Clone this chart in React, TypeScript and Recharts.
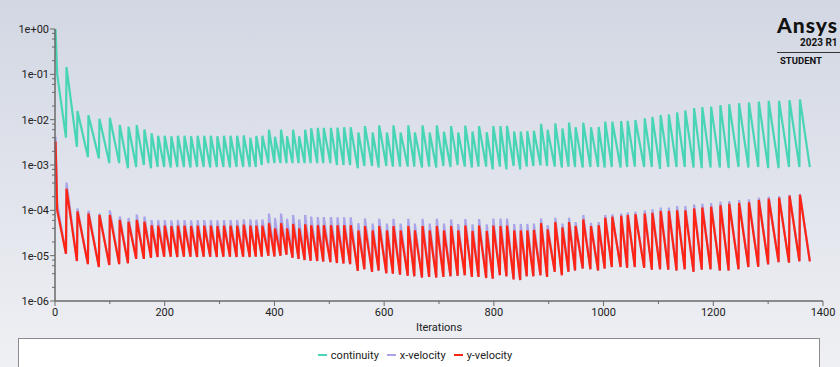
import React from 'react';
import { LineChart, Line, XAxis, YAxis, Label } from 'recharts';

// iteration at which every time step starts (the spike of each tooth)
const stepStart = [
  1, 21, 41, 61, 81, 100, 118, 134, 149, 163,
  176, 188, 200, 212, 224, 236, 248, 260, 272, 284,
  296, 308, 320, 332, 344, 356, 367, 378, 390, 401,
  412, 423, 434, 445, 456, 467, 479, 490, 503, 515,
  527, 539, 553, 565, 579, 591, 605, 617, 630, 644,
  656, 670, 683, 696, 709, 722, 735, 748, 761, 773,
  787, 799, 812, 824, 837, 849, 861, 873, 886, 898,
  912, 925, 937, 949, 963, 977, 991, 1003, 1016, 1032,
  1044, 1058, 1075, 1089, 1104, 1119, 1134, 1149, 1165, 1180,
  1196, 1213, 1229, 1247, 1265, 1283, 1301, 1320, 1339, 1358,
];
const lastIteration = 1376;

const continuityPeak = [
  1.0, 0.145, 0.0155, 0.0125, 0.0105, 0.011, 0.0076, 0.007, 0.0076, 0.0061,
  0.005, 0.0044, 0.0044, 0.0043, 0.0044, 0.0044, 0.0043, 0.0044, 0.0044, 0.0044,
  0.0043, 0.0044, 0.0044, 0.0044, 0.0045, 0.004, 0.0044, 0.0044, 0.006, 0.0042,
  0.006, 0.0043, 0.006, 0.0043, 0.006, 0.0065, 0.0066, 0.0066, 0.0066, 0.0067,
  0.0068, 0.0068, 0.0052, 0.0072, 0.0052, 0.0075, 0.0052, 0.0075, 0.0052, 0.0075,
  0.0052, 0.0075, 0.0052, 0.0075, 0.0054, 0.0072, 0.0052, 0.0074, 0.0055, 0.0072,
  0.0053, 0.0072, 0.0072, 0.0073, 0.0055, 0.0055, 0.0056, 0.0057, 0.0081, 0.006,
  0.0083, 0.0064, 0.0086, 0.0068, 0.0086, 0.0068, 0.0069, 0.009, 0.009, 0.0093,
  0.0094, 0.0098, 0.0107, 0.0115, 0.0127, 0.013, 0.0144, 0.016, 0.018, 0.019,
  0.0194, 0.021, 0.022, 0.023, 0.024, 0.025, 0.026, 0.026, 0.027, 0.028,
];
const continuityTrough = [
  0.004, 0.0025, 0.0015, 0.0014, 0.0011, 0.0011, 0.00085, 0.0009, 0.001, 0.00085,
  0.0009, 0.0009, 0.00088, 0.0009, 0.0009, 0.00088, 0.0009, 0.0009, 0.00088, 0.0009,
  0.0009, 0.00088, 0.0009, 0.0009, 0.0009, 0.0009, 0.001, 0.0011, 0.0011, 0.0011,
  0.0011, 0.0011, 0.0011, 0.0011, 0.0011, 0.0011, 0.0011, 0.0011, 0.001, 0.001,
  0.001, 0.00085, 0.00095, 0.00095, 0.00088, 0.00095, 0.00092, 0.00092, 0.00092, 0.00092,
  0.00088, 0.00092, 0.00088, 0.00095, 0.0009, 0.001, 0.00092, 0.00088, 0.00092, 0.00092,
  0.0008, 0.00092, 0.0008, 0.00095, 0.0008, 0.00092, 0.00095, 0.00098, 0.00095, 0.00092,
  0.00088, 0.00092, 0.0009, 0.00088, 0.0009, 0.0009, 0.00088, 0.0009, 0.00088, 0.0009,
  0.00092, 0.0009, 0.0009, 0.00082, 0.0009, 0.0009, 0.0009, 0.00088, 0.00085, 0.00088,
  0.00088, 0.00085, 0.0009, 0.00088, 0.0009, 0.00085, 0.00085, 0.0009, 0.0009, 0.0009,
];
const xVelocityPeak = [
  0.0042, 4.1e-4, 1.1e-4, 9.8e-5, 8.5e-5, 1.0e-4, 7.3e-5, 6.8e-5, 8.1e-5, 7.3e-5,
  6.1e-5, 6.1e-5, 6.1e-5, 6.0e-5, 6.1e-5, 6.1e-5, 6.0e-5, 6.1e-5, 6.1e-5, 6.1e-5,
  6.0e-5, 6.1e-5, 6.1e-5, 6.1e-5, 6.3e-5, 6.3e-5, 6.2e-5, 6.3e-5, 8.5e-5, 6.8e-5,
  8.5e-5, 6.5e-5, 7.9e-5, 6.3e-5, 7.9e-5, 7.3e-5, 7.1e-5, 7.1e-5, 7.1e-5, 7.0e-5,
  7.0e-5, 7.0e-5, 5.2e-5, 6.6e-5, 5.1e-5, 6.5e-5, 5.1e-5, 6.5e-5, 5.1e-5, 6.5e-5,
  5.1e-5, 6.5e-5, 5.1e-5, 6.5e-5, 5.1e-5, 6.3e-5, 5.0e-5, 6.4e-5, 4.9e-5, 6.4e-5,
  4.9e-5, 6.6e-5, 6.6e-5, 6.6e-5, 5.0e-5, 5.0e-5, 5.0e-5, 5.1e-5, 6.6e-5, 4.7e-5,
  6.9e-5, 5.1e-5, 6.9e-5, 5.5e-5, 7.9e-5, 5.3e-5, 5.5e-5, 7.9e-5, 8.1e-5, 8.5e-5,
  8.9e-5, 9.3e-5, 1.0e-4, 1.05e-4, 1.15e-4, 1.15e-4, 1.25e-4, 1.25e-4, 1.35e-4, 1.4e-4,
  1.45e-4, 1.55e-4, 1.6e-4, 1.7e-4, 1.75e-4, 1.9e-4, 2.0e-4, 2.05e-4, 2.2e-4, 2.3e-4,
];
const yVelocityPeak = [
  0.0033, 3.0e-4, 9.5e-5, 8.5e-5, 7.9e-5, 7.9e-5, 6.1e-5, 5.6e-5, 6.1e-5, 5.6e-5,
  4.7e-5, 4.6e-5, 4.6e-5, 4.5e-5, 4.6e-5, 4.6e-5, 4.5e-5, 4.6e-5, 4.6e-5, 4.6e-5,
  4.5e-5, 4.6e-5, 4.6e-5, 4.6e-5, 4.8e-5, 4.6e-5, 4.6e-5, 4.6e-5, 5.2e-5, 4.0e-5,
  5.2e-5, 4.0e-5, 5.0e-5, 4.0e-5, 4.9e-5, 4.7e-5, 4.7e-5, 4.7e-5, 4.7e-5, 4.7e-5,
  4.7e-5, 4.7e-5, 3.6e-5, 4.5e-5, 3.6e-5, 4.5e-5, 3.6e-5, 4.5e-5, 3.6e-5, 4.5e-5,
  3.6e-5, 4.5e-5, 3.6e-5, 4.5e-5, 3.6e-5, 4.5e-5, 3.6e-5, 4.6e-5, 3.5e-5, 4.6e-5,
  3.5e-5, 4.6e-5, 4.5e-5, 4.6e-5, 3.6e-5, 3.6e-5, 3.6e-5, 3.7e-5, 5.2e-5, 3.8e-5,
  5.5e-5, 4.2e-5, 5.5e-5, 4.5e-5, 6.3e-5, 4.5e-5, 4.7e-5, 6.9e-5, 7.2e-5, 7.6e-5,
  7.9e-5, 8.2e-5, 8.5e-5, 8.8e-5, 9.7e-5, 9.7e-5, 1.0e-4, 1.0e-4, 1.1e-4, 1.15e-4,
  1.2e-4, 1.3e-4, 1.4e-4, 1.45e-4, 1.5e-4, 1.7e-4, 1.8e-4, 1.9e-4, 2.1e-4, 2.2e-4,
];
const yVelocityTrough = [
  1.1e-5, 7.6e-6, 6.5e-6, 5.6e-6, 6.2e-6, 6.5e-6, 6.8e-6, 8.5e-6, 8.5e-6, 9.0e-6,
  9.3e-6, 9.5e-6, 9.5e-6, 9.3e-6, 9.5e-6, 9.5e-6, 9.3e-6, 9.5e-6, 9.5e-6, 9.3e-6,
  9.5e-6, 9.5e-6, 9.3e-6, 9.5e-6, 9.3e-6, 9.5e-6, 9.5e-6, 1.0e-5, 9.6e-6, 1.0e-5,
  1.05e-5, 9.0e-6, 8.5e-6, 8.0e-6, 7.7e-6, 7.6e-6, 7.4e-6, 7.2e-6, 6.9e-6, 6.7e-6,
  6.5e-6, 4.6e-6, 5.0e-6, 4.4e-6, 4.7e-6, 4.1e-6, 4.0e-6, 3.8e-6, 3.6e-6, 3.5e-6,
  3.3e-6, 3.4e-6, 3.3e-6, 3.4e-6, 3.5e-6, 3.6e-6, 3.7e-6, 3.4e-6, 3.4e-6, 3.2e-6,
  3.1e-6, 3.7e-6, 3.5e-6, 3.0e-6, 2.9e-6, 3.5e-6, 3.5e-6, 3.7e-6, 3.4e-6, 4.4e-6,
  3.7e-6, 4.4e-6, 4.7e-6, 5.2e-6, 5.0e-6, 4.7e-6, 5.2e-6, 5.6e-6, 5.6e-6, 5.4e-6,
  5.6e-6, 5.4e-6, 4.9e-6, 5.0e-6, 4.9e-6, 4.7e-6, 5.0e-6, 4.4e-6, 4.9e-6, 5.0e-6,
  4.7e-6, 4.7e-6, 5.0e-6, 5.6e-6, 5.7e-6, 6.4e-6, 7.2e-6, 7.0e-6, 7.5e-6, 7.5e-6,
];
// the x-velocity troughs sit right under the red line in the picture
const xVelocityTrough = yVelocityTrough;

// the very first step falls off fast before settling into the sawtooth
const startupIteration = [4];
const startupContinuity = [0.1];
const startupXVelocity = [1.4e-4];
const startupYVelocity = [1.0e-4];

const seriesKeys = ['continuity', 'xVelocity', 'yVelocity'];
const seriesNames = ['continuity', 'x-velocity', 'y-velocity'];
const seriesColors = ['#48d5b5', '#a9a5e8', '#ff2414'];

const xMajorTicks = [0, 200, 400, 600, 800, 1000, 1200, 1400];
const xMinorTicks = [100, 300, 500, 700, 900, 1100, 1300];
const yMajorTicks = [1e-6, 1e-5, 1e-4, 1e-3, 1e-2, 1e-1, 1];
const yMinorFactors = [2, 4, 6, 8];

const rows: any[] = [];
stepStart.forEach((it, i) => {
  const end = i + 1 < stepStart.length ? stepStart[i + 1] - 1 : lastIteration;
  rows.push({ it, continuity: continuityPeak[i], xVelocity: xVelocityPeak[i], yVelocity: yVelocityPeak[i] });
  rows.push({ it: end, continuity: continuityTrough[i], xVelocity: xVelocityTrough[i], yVelocity: yVelocityTrough[i] });
});
startupIteration.forEach((it, i) => {
  rows.push({ it, continuity: startupContinuity[i], xVelocity: startupXVelocity[i], yVelocity: startupYVelocity[i] });
});
const data = rows.sort((a, b) => a.it - b.it);

const yMinorTicks: number[] = [];
yMajorTicks.slice(0, -1).forEach((d) => yMinorFactors.forEach((f) => yMinorTicks.push(d * f)));
const yTicks = [...yMajorTicks, ...yMinorTicks].sort((a, b) => a - b);
const xTicks = [...xMajorTicks, ...xMinorTicks].sort((a, b) => a - b);

const axisColor = '#6a6a6a';
const textColor = '#222';

const expLabel = (v: number) => {
  const e = Math.round(Math.log10(v));
  return `1e${e < 0 ? '-' : '+'}${String(Math.abs(e)).padStart(2, '0')}`;
};

const isMajorY = (v: number) => yMajorTicks.some((t) => Math.abs(Math.log10(t) - Math.log10(v)) < 1e-6);

const YTick = (props: any) => {
  const { x, y, payload } = props;
  const major = isMajorY(payload.value);
  return (
    <g>
      <line x1={x} x2={x - (major ? 5 : 3)} y1={y} y2={y} stroke={axisColor} strokeWidth={1} />
      {major && (
        <text x={x - 6} y={y} dy={4} textAnchor="end" fontSize={11} fill={textColor}>
          {expLabel(payload.value)}
        </text>
      )}
    </g>
  );
};

const XTick = (props: any) => {
  const { x, y, payload } = props;
  const major = xMajorTicks.includes(payload.value);
  return (
    <g>
      <line x1={x} x2={x} y1={y} y2={y + (major ? 5 : 3)} stroke={axisColor} strokeWidth={1} />
      {major && (
        <text x={x} y={y + 15} textAnchor="middle" fontSize={11} fill={textColor}>
          {payload.value}
        </text>
      )}
    </g>
  );
};

export default function App() {
  return (
    <div
      style={{
        position: 'fixed',
        left: 0,
        top: 0,
        width: 840,
        height: 367,
        overflow: 'hidden',
        background: 'linear-gradient(#d2d7e3, #eff0f4)',
        fontFamily: 'Roboto, sans-serif',
      }}
    >
      <LineChart width={840} height={338} data={data} margin={{ top: 29, right: 17, left: 0, bottom: 0 }}>
        <XAxis
          dataKey="it"
          type="number"
          domain={[0, 1400]}
          ticks={xTicks}
          interval={0}
          tickSize={0}
          tickMargin={0}
          tickLine={false}
          tick={(p: any) => <XTick {...p} />}
          height={37}
          axisLine={{ stroke: axisColor, strokeWidth: 1.5 }}
        >
          <Label value="Iterations" position="insideBottom" offset={7} fontSize={11} fill={textColor} />
        </XAxis>
        <YAxis
          type="number"
          scale="log"
          domain={[1e-6, 1]}
          allowDataOverflow
          ticks={yTicks}
          interval={0}
          width={55}
          tickSize={0}
          tickMargin={0}
          tickLine={false}
          tick={(p: any) => <YTick {...p} />}
          axisLine={{ stroke: axisColor, strokeWidth: 1.5 }}
        />
        {seriesKeys.map((k, i) => (
          <Line
            key={k}
            type="linear"
            dataKey={k}
            name={seriesNames[i]}
            stroke={seriesColors[i]}
            strokeWidth={2.2}
            dot={false}
            isAnimationActive={false}
          />
        ))}
      </LineChart>

      {/* legend box */}
      <div
        style={{
          position: 'absolute',
          left: 18,
          top: 338,
          width: 802,
          height: 40,
          boxSizing: 'border-box',
          border: '1px solid #8c8c8c',
          background: '#fff',
          display: 'flex',
          justifyContent: 'center',
          paddingTop: 9,
          fontSize: 11,
          color: textColor,
        }}
      >
        {seriesNames.map((n, i) => (
          <div key={n} style={{ display: 'flex', alignItems: 'center', height: 14, marginRight: 8 }}>
            <span style={{ width: 9, height: 2, background: seriesColors[i], marginRight: 4 }} />
            <span>{n}</span>
          </div>
        ))}
      </div>

      {/* Ansys student badge */}
      <div style={{ position: 'absolute', left: 777, top: 12, fontSize: 21, fontWeight: 900, color: '#111', letterSpacing: 1, fontFamily: 'Lato, sans-serif', whiteSpace: 'nowrap' }}>
        Ansys
      </div>
      <div style={{ position: 'absolute', left: 800, top: 37, fontSize: 10, fontWeight: 700, color: '#111', whiteSpace: 'nowrap' }}>2023 R1</div>
      <div style={{ position: 'absolute', left: 777, top: 52, width: 63, height: 1, background: '#333' }} />
      <div style={{ position: 'absolute', left: 780, top: 55, fontSize: 9.5, fontWeight: 700, color: '#111' }}>STUDENT</div>
    </div>
  );
}
